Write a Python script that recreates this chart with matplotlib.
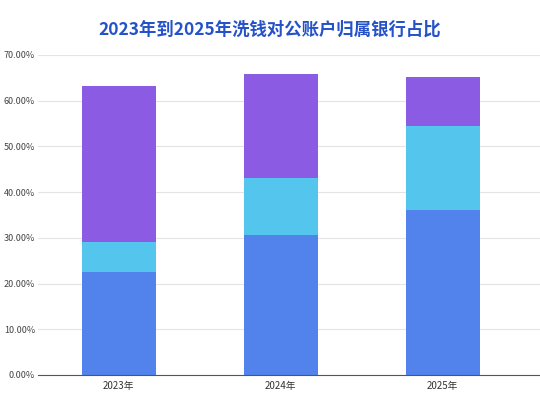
import matplotlib
matplotlib.use("Agg")
import matplotlib.pyplot as plt
import numpy as np

plt.rcParams['font.family'] = ['Noto Sans CJK SC', 'DejaVu Sans']

years = ["2023年", "2024年", "2025年"]
seg1 = [22.5, 30.7, 36.1]
seg2 = [6.7, 12.3, 18.4]
seg3 = [34.1, 22.8, 10.6]
colors = ["#5282EC", "#54C6EE", "#8B5CE3"]

fig = plt.figure(figsize=(5.4, 4.0), dpi=100)
ax = fig.add_axes([0.07, 0.0625, 0.93, 0.8])
x = np.arange(len(years))
bottom = np.zeros(3)
for vals, c in zip([seg1, seg2, seg3], colors):
    ax.bar(x, vals, 0.457, bottom=bottom, color=c, zorder=2)
    bottom += np.array(vals)

ax.set_xlim(-0.5, 2.6)
ax.set_ylim(0, 70)
ax.set_yticks(range(0, 71, 10))
ax.set_yticklabels([f"{t:.2f}%" for t in range(0, 71, 10)], fontsize=6.5, color="#444")
ax.set_xticks(x)
ax.set_xticklabels(years, fontsize=7, color="#333")
ax.grid(axis="y", color="#e4e4e4", lw=0.8, zorder=0)
for s in ("top", "right", "left"):
    ax.spines[s].set_visible(False)
ax.spines["bottom"].set_color("#555")
ax.tick_params(length=0, pad=4)
ax.tick_params(axis="y", pad=2)
fig.text(0.5, 0.925, "2023年到2025年洗钱对公账户归属银行占比", ha="center", va="center",
         fontsize=12.5, fontweight="bold", color="#2552C8")
fig.savefig("out.png", dpi=100)
